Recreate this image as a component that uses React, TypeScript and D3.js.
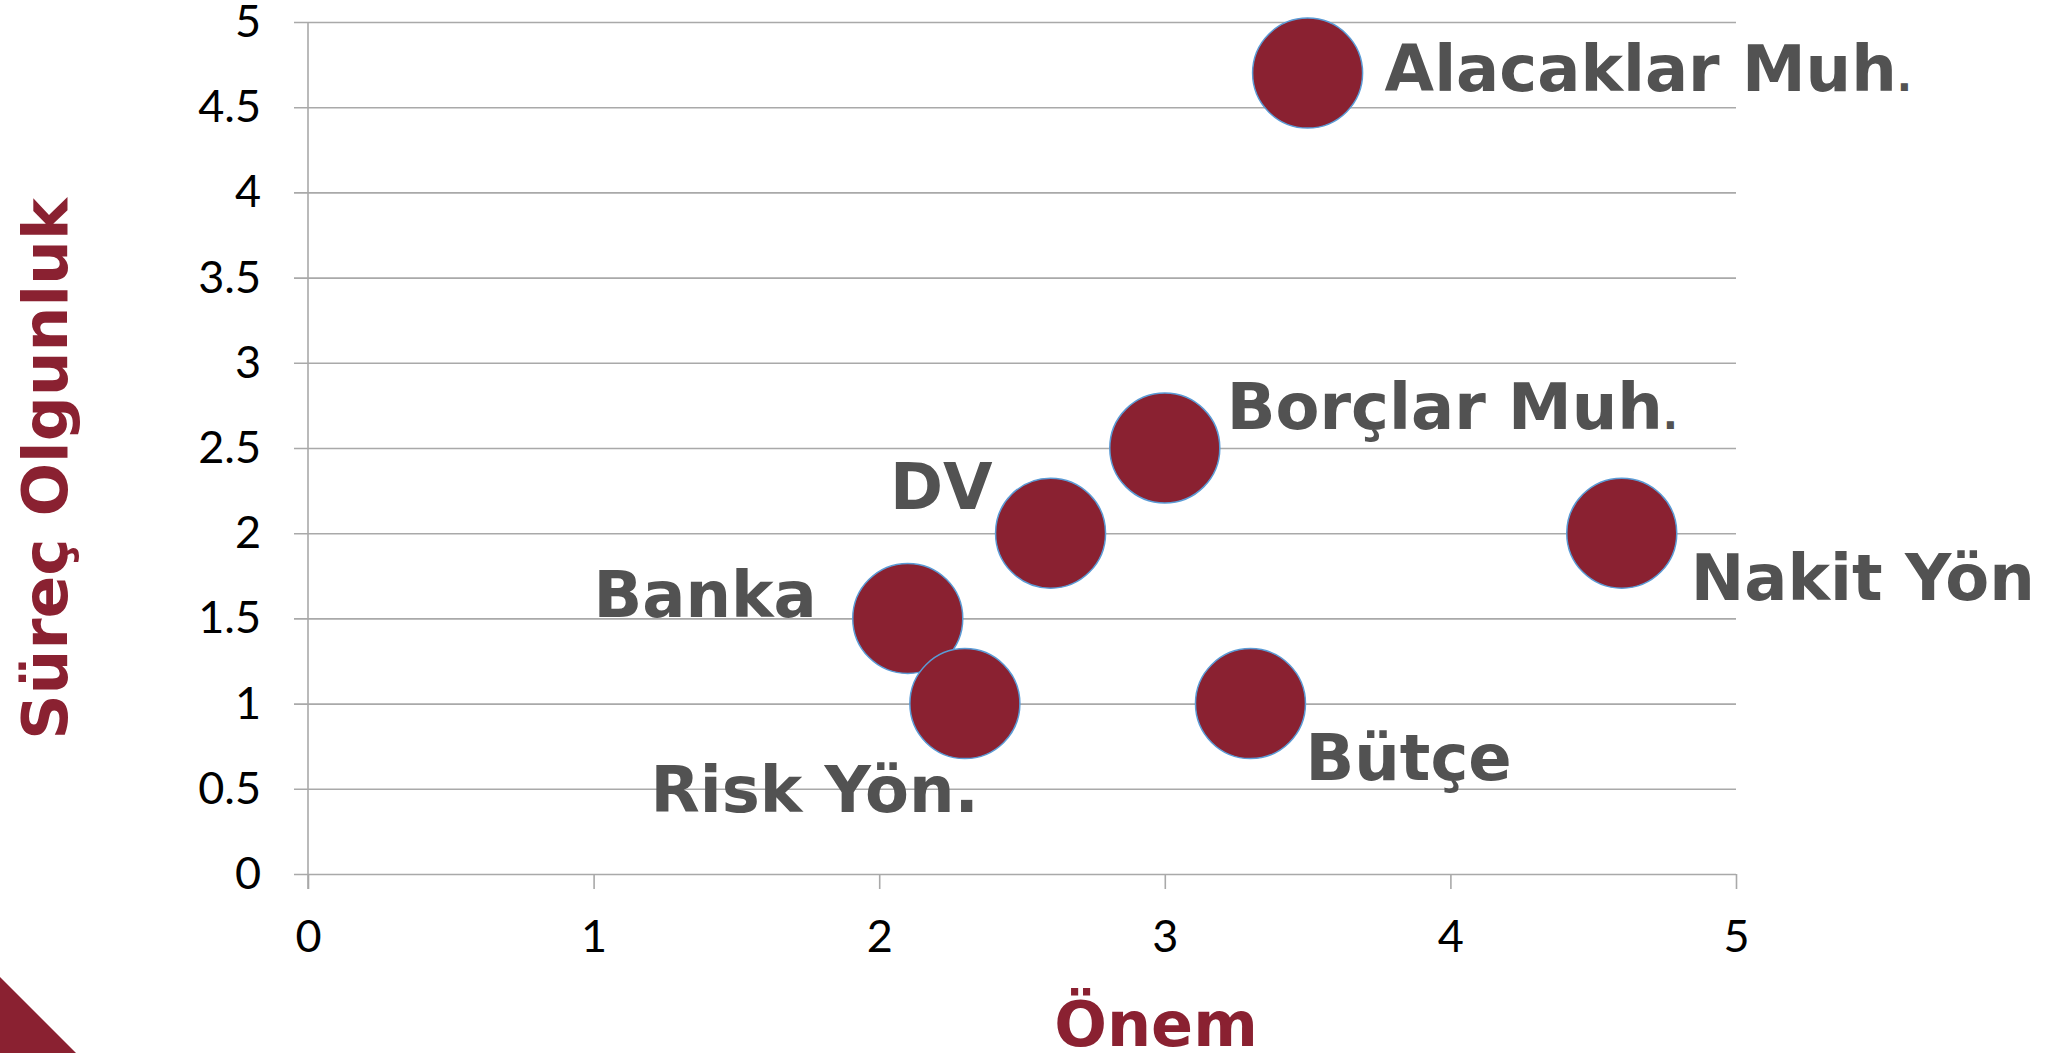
import React, { useEffect, useRef } from 'react';
import * as d3 from 'd3';

// process names and their scores
const processNames = ['Alacaklar Muh.', 'Borçlar Muh.', 'DV', 'Banka', 'Risk Yön.', 'Bütçe', 'Nakit Yön'];
const importance = [3.5, 3.0, 2.6, 2.1, 2.3, 3.3, 4.6]; // Önem
const maturity = [4.7, 2.5, 2.0, 1.5, 1.0, 1.0, 2.0]; // Süreç Olgunluk
const bubbleSize = [1, 1, 1, 1, 1, 1, 1];

const xTicks = [0, 1, 2, 3, 4, 5];
const yTicks = [0, 0.5, 1, 1.5, 2, 2.5, 3, 3.5, 4, 4.5, 5];

const xTitle = 'Önem';
const yTitle = 'Süreç Olgunluk';

// label placement relative to bubble centre (layout only)
const labelPlacement: { dx: number; dy: number; anchor: string; smallDot: boolean }[] = [
  { dx: 77, dy: 18, anchor: 'start', smallDot: true },
  { dx: 62, dy: -19, anchor: 'start', smallDot: true },
  { dx: -58, dy: -24, anchor: 'end', smallDot: false },
  { dx: -91, dy: -1, anchor: 'end', smallDot: false },
  { dx: 14, dy: 108, anchor: 'end', smallDot: false },
  { dx: 55, dy: 76, anchor: 'start', smallDot: false },
  { dx: 69, dy: 67, anchor: 'start', smallDot: false },
];

const WIDTH = 2047;
const HEIGHT = 1053;
const BURGUNDY = '#8a2131';
const GRID = '#a9a9a9';

const App: React.FC = () => {
  const svgRef = useRef<SVGSVGElement>(null);

  useEffect(() => {
    if (!svgRef.current) return;
    const svg = d3.select(svgRef.current);
    svg.selectAll('*').remove();

    const left = 308;
    const right = 1736;
    const top = 22;
    const bottom = 874;

    const x = d3.scaleLinear().domain([0, 5]).range([left, right]);
    const y = d3.scaleLinear().domain([0, 5]).range([bottom, top]);
    const r = d3.scaleSqrt().domain([0, 1]).range([0, 55]);

    // horizontal gridlines + y ticks
    const gy = svg.append('g')
      .attr('transform', `translate(${left - 14},0)`)
      .call(d3.axisLeft(y).tickValues(yTicks).tickSize(-(right - left + 14)).tickPadding(33).tickFormat(d => String(d)));
    gy.select('.domain').remove();
    gy.selectAll('line').attr('stroke', GRID).attr('stroke-width', 1.6);
    gy.selectAll('text')
      .attr('fill', '#000')
      .style('font-family', 'Lato, "Open Sans", sans-serif')
      .style('font-size', '45px');

    // x ticks
    const gx = svg.append('g')
      .attr('transform', `translate(0,${bottom})`)
      .call(d3.axisBottom(x).tickValues(xTicks).tickSize(15).tickPadding(31).tickFormat(d => String(d)));
    gx.select('.domain').remove();
    gx.selectAll('line').attr('stroke', GRID).attr('stroke-width', 1.6);
    gx.selectAll('text')
      .attr('fill', '#000')
      .style('font-family', 'Lato, "Open Sans", sans-serif')
      .style('font-size', '45px');

    // y axis line
    svg.append('line')
      .attr('x1', left).attr('x2', left)
      .attr('y1', top).attr('y2', bottom + 15)
      .attr('stroke', GRID).attr('stroke-width', 1.6);

    // bubbles
    svg.append('g')
      .selectAll('circle')
      .data(processNames)
      .enter().append('circle')
      .attr('cx', (_, i) => x(importance[i]))
      .attr('cy', (_, i) => y(maturity[i]))
      .attr('r', (_, i) => r(bubbleSize[i]))
      .attr('fill', BURGUNDY)
      .attr('stroke', '#5b9bd5')
      .attr('stroke-width', 1.5);

    // labels
    const labels = svg.append('g')
      .selectAll('text')
      .data(processNames)
      .enter().append('text')
      .attr('x', (_, i) => x(importance[i]) + labelPlacement[i].dx)
      .attr('y', (_, i) => y(maturity[i]) + labelPlacement[i].dy)
      .attr('text-anchor', (_, i) => labelPlacement[i].anchor)
      .attr('fill', '#525252')
      .style('font-family', '"DejaVu Sans", Verdana, sans-serif')
      .style('font-weight', 'bold')
      .style('font-size', '64px');

    labels.each(function (d, i) {
      const t = d3.select(this);
      if (labelPlacement[i].smallDot) {
        t.append('tspan').text(d.slice(0, -1));
        t.append('tspan').style('font-size', '40px').text('.');
      } else {
        t.text(d);
      }
    });

    // axis titles
    svg.append('text')
      .attr('transform', 'translate(67,469) rotate(-90)')
      .attr('text-anchor', 'middle')
      .attr('fill', BURGUNDY)
      .style('font-family', '"DejaVu Sans", Verdana, sans-serif')
      .style('font-weight', 'bold')
      .style('font-size', '63px')
      .text(yTitle);

    svg.append('text')
      .attr('x', 1156)
      .attr('y', 1046)
      .attr('text-anchor', 'middle')
      .attr('fill', BURGUNDY)
      .style('font-family', '"DejaVu Sans", Verdana, sans-serif')
      .style('font-weight', 'bold')
      .style('font-size', '62px')
      .text(xTitle);

    // corner decoration
    svg.append('polygon')
      .attr('points', `0,977 76,${HEIGHT} 0,${HEIGHT}`)
      .attr('fill', BURGUNDY);
  }, []);

  return (
    <svg
      ref={svgRef}
      width={WIDTH}
      height={HEIGHT}
      viewBox={`0 0 ${WIDTH} ${HEIGHT}`}
      style={{ position: 'absolute', left: 0, top: 0, display: 'block', background: '#fff' }}
    />
  );
};

export default App;
